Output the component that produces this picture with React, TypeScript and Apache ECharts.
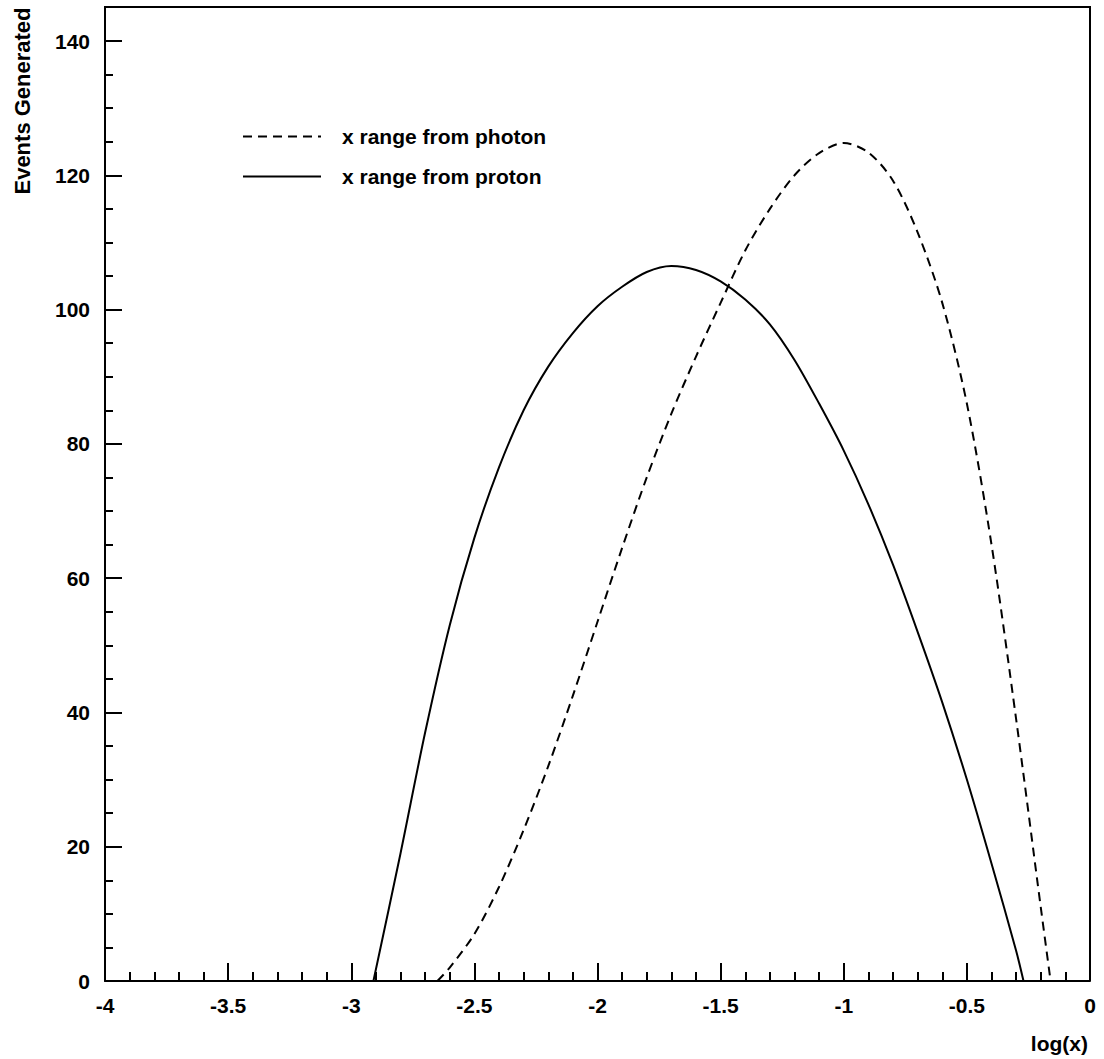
import React, { useEffect, useRef } from "react";
import * as echarts from "echarts";

const photonX = [-2.65, -2.6, -2.5, -2.4, -2.3, -2.2, -2.1, -2.0, -1.9, -1.8, -1.7, -1.6, -1.5, -1.4, -1.3, -1.2, -1.1, -1.0, -0.9, -0.8, -0.7, -0.6, -0.5, -0.4, -0.3, -0.2, -0.16];
const photonY = [0, 2, 7, 14, 22.5, 32, 42.5, 53.5, 64.5, 75, 84.5, 93, 101, 108.8, 115, 120, 123.3, 124.8, 123.4, 119.2, 111.5, 101, 86, 65, 39, 11, 0];

const protonX = [-2.91, -2.8, -2.7, -2.6, -2.5, -2.4, -2.3, -2.2, -2.1, -2.0, -1.9, -1.8, -1.7, -1.6, -1.5, -1.4, -1.3, -1.2, -1.1, -1.0, -0.9, -0.8, -0.7, -0.6, -0.5, -0.4, -0.3, -0.27];
const protonY = [0, 19, 37, 53, 66, 76.5, 85, 91.5, 96.5, 100.5, 103.4, 105.6, 106.5, 105.9, 104.2, 101.5, 97.8, 92.5, 86, 79, 71, 62, 52, 41.5, 30, 17.5, 4.5, 0];

const seriesNames = ["x range from photon", "x range from proton"];
const xTitle = "log(x)";
const yTitle = "Events Generated";

const FONT = "'Liberation Sans', Arial, sans-serif";
const GRID_LEFT = 105;
const GRID_RIGHT = 14;
const FRAME_TOP = 7;
const GRID_TOP = 41;
const GRID_BOTTOM = 78;
const W = 1104;
const H = 1059;

export default function App() {
  const ref = useRef<HTMLDivElement>(null);
  useEffect(() => {
    if (!ref.current) return;
    const chart = echarts.init(ref.current, undefined, { renderer: "svg" });
    const photon = photonX.map((x, i) => [x, photonY[i]]);
    const proton = protonX.map((x, i) => [x, protonY[i]]);
    const xR = W - GRID_RIGHT;
    const yB = H - GRID_BOTTOM;
    chart.setOption({
      animation: false,
      backgroundColor: "#fff",
      textStyle: { fontFamily: FONT },
      grid: {
        left: GRID_LEFT,
        right: GRID_RIGHT,
        top: GRID_TOP,
        bottom: GRID_BOTTOM,
        show: false,
      },
      legend: {
        orient: "vertical",
        left: 237,
        top: 121,
        itemWidth: 78,
        itemHeight: 14,
        itemGap: 19,
        data: seriesNames,
        itemStyle: { opacity: 0 },
        textStyle: {
          fontFamily: FONT,
          fontSize: 21,
          fontWeight: "bold",
          color: "#000",
          padding: [0, 0, 0, 16],
        },
      },
      xAxis: {
        type: "value",
        min: -4,
        max: 0,
        interval: 0.5,
        axisLine: { show: true, onZero: false, lineStyle: { color: "#000", width: 2 } },
        axisTick: { show: true, inside: true, length: 18, lineStyle: { color: "#000", width: 2 } },
        minorTick: { show: true, splitNumber: 5, length: 9, lineStyle: { color: "#000", width: 2 } },
        splitLine: { show: false },
        minorSplitLine: { show: false },
        axisLabel: {
          color: "#000",
          fontFamily: FONT,
          fontSize: 21,
          fontWeight: "bold",
          margin: 14,
          formatter: (v: number) => String(Math.round(v * 10) / 10),
        },
      },
      yAxis: {
        type: "value",
        position: "left",
        min: 0,
        max: 140,
        interval: 20,
        axisLine: { show: true, onZero: false, lineStyle: { color: "#000", width: 2 } },
        axisTick: { show: true, inside: true, length: 17, lineStyle: { color: "#000", width: 2 } },
        minorTick: { show: true, splitNumber: 4, length: 8, lineStyle: { color: "#000", width: 2 } },
        splitLine: { show: false },
        minorSplitLine: { show: false },
        axisLabel: {
          color: "#000",
          fontFamily: FONT,
          fontSize: 21,
          fontWeight: "bold",
          margin: 15,
        },
      },
      graphic: [
        {
          type: "polyline",
          silent: true,
          shape: {
            points: [
              [GRID_LEFT, GRID_TOP],
              [GRID_LEFT, FRAME_TOP],
              [xR, FRAME_TOP],
              [xR, yB],
            ],
          },
          style: { stroke: "#000", lineWidth: 2, fill: null },
        },
        {
          type: "text",
          x: 22,
          y: 101,
          rotation: Math.PI / 2,
          style: {
            text: yTitle,
            fontFamily: FONT,
            fontSize: 22,
            fontWeight: "bold",
            fill: "#000",
            textAlign: "center",
            textVerticalAlign: "middle",
          },
        },
        {
          type: "text",
          right: 16,
          top: 1033,
          style: {
            text: xTitle,
            fontFamily: FONT,
            fontSize: 21,
            fontWeight: "bold",
            fill: "#000",
          },
        },
      ],
      series: [
        {
          name: seriesNames[0],
          type: "line",
          data: photon,
          smooth: 0.3,
          symbol: "none",
          showSymbol: false,
          color: "#000",
          lineStyle: { color: "#000", width: 2, type: [9, 6] },
        },
        {
          name: seriesNames[1],
          type: "line",
          data: proton,
          smooth: 0.3,
          symbol: "none",
          showSymbol: false,
          color: "#000",
          lineStyle: { color: "#000", width: 2, type: "solid" },
        },
      ],
    });
    return () => chart.dispose();
  }, []);
  return (
    <div
      ref={ref}
      style={{ position: "absolute", left: 0, top: 0, width: W, height: H }}
    />
  );
}
